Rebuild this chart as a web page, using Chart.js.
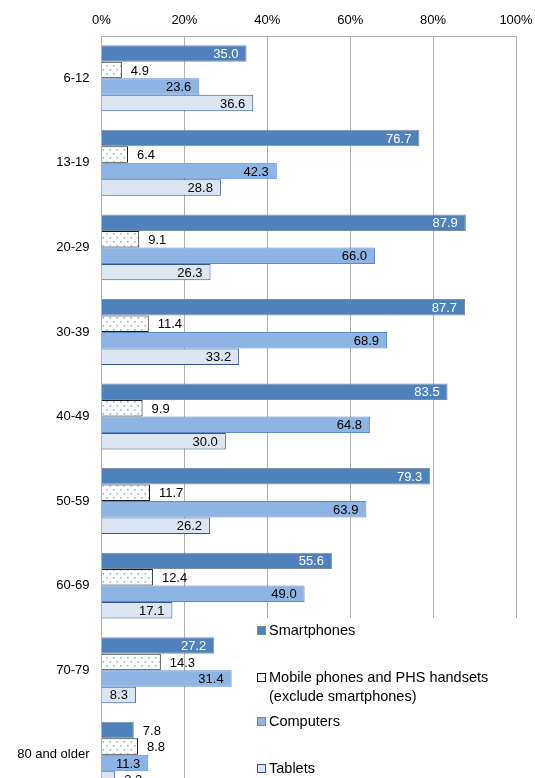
<!DOCTYPE html>
<html lang="en">
<head>
  <meta charset="UTF-8">
  <title>Device usage by age group</title>
  <script src="https://cdn.jsdelivr.net/npm/chart.js"></script>
  <style>
    html, body { margin: 0; padding: 0; background: #fff; overflow: hidden; }
    canvas { display: block; }
  </style>
</head>
<body>
  <canvas id="usageChart" width="535" height="810"></canvas>

  <script>
    const ageGroups = ['6-12', '13-19', '20-29', '30-39', '40-49', '50-59', '60-69', '70-79', '80 and older'];
    const smartphones = [35.0, 76.7, 87.9, 87.7, 83.5, 79.3, 55.6, 27.2, 7.8];
    const mobilePhs   = [4.9, 6.4, 9.1, 11.4, 9.9, 11.7, 12.4, 14.3, 8.8];
    const computers   = [23.6, 42.3, 66.0, 68.9, 64.8, 63.9, 49.0, 31.4, 11.3];
    const tablets     = [36.6, 28.8, 26.3, 33.2, 30.0, 26.2, 17.1, 8.3, 3.3];
    const xTicks = [0, 20, 40, 60, 80, 100];

    const FONT = '"Liberation Sans", Arial, sans-serif';

    // white fill with small light-blue dots for the feature phone bars
    function dotPattern() {
      const c = document.createElement('canvas');
      c.width = 7; c.height = 8;
      const g = c.getContext('2d');
      g.fillStyle = '#ffffff';
      g.fillRect(0, 0, 7, 8);
      g.fillStyle = '#8fb5e4';
      g.fillRect(1, 1, 1.6, 1.6);
      g.fillRect(4.5, 5, 1.6, 1.6);
      return g.createPattern(c, 'repeat');
    }
    const dots = dotPattern();

    const styles = [
      { fill: '#4f81bd', border: '#7f8c9c', inside: '#ffffff' },
      { fill: dots, border: '#1a1a1a', inside: null },
      { fill: '#8db4e2', border: '#5b8ac6', inside: '#000000' },
      { fill: '#dce6f2', border: '#2f5597', inside: '#000000' }
    ];

    // value labels: inside the bar end when there is room, otherwise just past it
    const valueLabels = {
      id: 'valueLabels',
      afterDatasetsDraw(chart) {
        const ctx = chart.ctx;
        ctx.save();
        ctx.font = '13px ' + FONT;
        ctx.textBaseline = 'middle';
        chart.data.datasets.forEach((ds, i) => {
          const meta = chart.getDatasetMeta(i);
          meta.data.forEach((bar, j) => {
            const v = ds.data[j];
            const txt = v.toFixed(1);
            const st = styles[i];
            const outside = st.inside === null || v < 8;
            if (outside) {
              ctx.fillStyle = '#000';
              ctx.textAlign = 'left';
              ctx.fillText(txt, bar.x + 9, bar.y + 1);
            } else {
              ctx.fillStyle = st.inside;
              ctx.textAlign = 'right';
              ctx.fillText(txt, bar.x - 8, bar.y + 1);
            }
          });
        });
        ctx.restore();
      }
    };

    // legend block sitting over the lower right of the plot
    const boxLegend = {
      id: 'boxLegend',
      afterDraw(chart) {
        const ctx = chart.ctx;
        ctx.save();
        ctx.fillStyle = '#ffffff';
        ctx.fillRect(248, 618, 300, 200);
        ctx.font = '14.5px ' + FONT;
        ctx.textBaseline = 'middle';
        ctx.textAlign = 'left';
        const rows = [
          { y: 631, lines: [chart.data.datasets[0].label] },
          { y: 678, lines: ['Mobile phones and PHS handsets', '(exclude smartphones)'] },
          { y: 722, lines: [chart.data.datasets[2].label] },
          { y: 769, lines: [chart.data.datasets[3].label] }
        ];
        rows.forEach((r, i) => {
          const st = styles[i];
          ctx.fillStyle = st.fill;
          ctx.fillRect(257.5, r.y - 4.5, 8, 8);
          ctx.strokeStyle = st.border;
          ctx.lineWidth = 1;
          ctx.strokeRect(257.5, r.y - 4.5, 8, 8);
          ctx.fillStyle = '#000';
          r.lines.forEach((t, k) => ctx.fillText(t, 269, r.y + k * 19));
        });
        ctx.restore();
      }
    };

    const mkSet = (label, data, i) => ({
      label,
      data,
      backgroundColor: styles[i].fill,
      borderColor: styles[i].border,
      borderWidth: 1,
      borderSkipped: 'start',
      categoryPercentage: 0.78,
      barPercentage: 1
    });

    new Chart(document.getElementById('usageChart'), {
      type: 'bar',
      data: {
        labels: ageGroups,
        datasets: [
          mkSet('Smartphones', smartphones, 0),
          mkSet('Mobile phones and PHS handsets (exclude smartphones)', mobilePhs, 1),
          mkSet('Computers', computers, 2),
          mkSet('Tablets', tablets, 3)
        ]
      },
      options: {
        indexAxis: 'y',
        responsive: false,
        maintainAspectRatio: false,
        animation: false,
        devicePixelRatio: 1,
        layout: { padding: { left: 0, right: 19, top: 0, bottom: 13 } },
        plugins: {
          legend: { display: false },
          tooltip: { enabled: false }
        },
        scales: {
          x: {
            position: 'top',
            min: 0,
            max: 100,
            afterBuildTicks(scale) { scale.ticks = xTicks.map(v => ({ value: v })); },
            afterFit(scale) {
              scale.height = 36;
              scale.paddingLeft = 0;
              scale.paddingRight = 0;
            },
            ticks: {
              callback: v => v + '%',
              color: '#000',
              padding: 8,
              font: { family: FONT, size: 13 }
            },
            grid: { color: '#b0b0b0', drawTicks: false },
            border: { color: '#b0b0b0' }
          },
          y: {
            afterFit(scale) {
              scale.width = 101.5;
              scale.paddingTop = 0;
              scale.paddingBottom = 0;
            },
            ticks: {
              color: '#000',
              padding: 12,
              font: { family: FONT, size: 13 }
            },
            grid: { display: false, drawTicks: false },
            border: { color: '#b0b0b0' }
          }
        }
      },
      plugins: [valueLabels, boxLegend]
    });
  </script>
</body>
</html>
